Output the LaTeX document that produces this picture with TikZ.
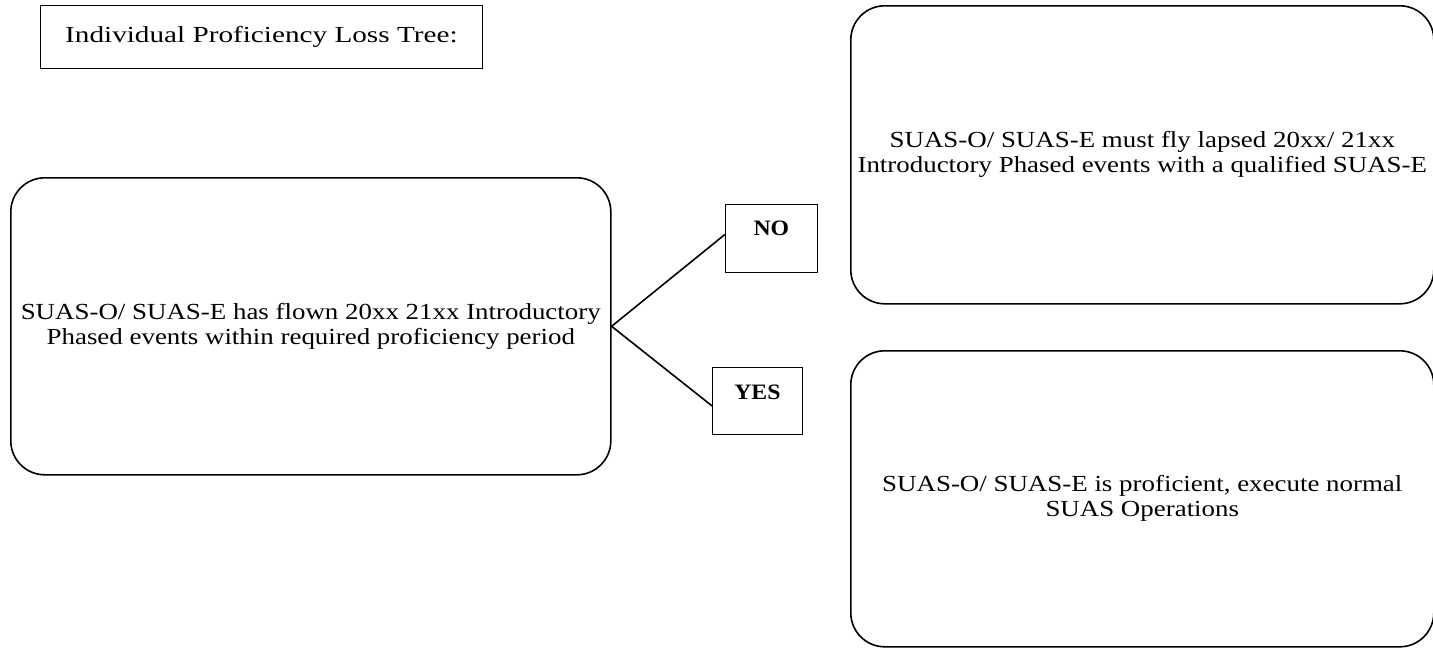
\documentclass[tikz,border=0pt]{standalone}
\usepackage{fontspec}
\setmainfont{Liberation Serif}
\newfontfamily\bodyfont[FakeStretch=1.17]{Liberation Serif}
\newfontfamily\titlefont[FakeStretch=1.27]{Liberation Serif}
\newfontfamily\tagfont[FakeStretch=1.08]{Liberation Serif}
\usepackage{tikz}

\tikzset{
	roundbox/.style={draw, line width=1.6pt, rounded corners=34pt, align=center, anchor=north west,
		font=\bodyfont\fontsize{23}{25}\selectfont, inner sep=0pt},
	tagbox/.style={draw, line width=0.8pt, anchor=north west, inner sep=0pt},
	tagtext/.style={font=\tagfont\fontsize{22}{24}\selectfont\bfseries, anchor=base},
	link/.style={line width=1.6pt}
}

\begin{document}
\begin{tikzpicture}[x=1pt,y=-1pt]
		\useasboundingbox (0,0) rectangle (1433,648);
		% title
		\node[draw, line width=0.8pt, minimum width=442pt, minimum height=63pt, anchor=north west,
			font=\titlefont\fontsize{23}{25}\selectfont] (title) at (40,5) {Individual Proficiency Loss Tree:};
		% question
		\node[roundbox, minimum width=600pt, minimum height=297pt] (check) at (10,177)
			{SUAS-O/ SUAS-E has flown 20xx 21xx Introductory\\Phased events within required proficiency period};
		% answers
		\node[tagbox, minimum width=92pt, minimum height=68pt] (no) at (725,204) {};
		\node[tagtext] (notxt) at (no.center |- 0,235) {NO};
		\node[tagbox, minimum width=90pt, minimum height=67pt] (yes) at (712,367) {};
		\node[tagtext] (yestxt) at (yes.center |- 0,399) {YES};
		% outcomes
		\node[roundbox, minimum width=583pt, minimum height=298pt] (lapsed) at (850,5)
			{SUAS-O/ SUAS-E must fly lapsed 20xx/ 21xx\\Introductory Phased events with a qualified SUAS-E};
		\node[roundbox, minimum width=583pt, minimum height=296pt] (current) at (850,350)
			{SUAS-O/ SUAS-E is proficient, execute normal\\SUAS Operations};
		\draw[link] (check.east) -- ([yshift=4pt]no.west);
		\draw[link] (check.east) -- ([yshift=-5pt]yes.west);
	\end{tikzpicture}
\end{document}
